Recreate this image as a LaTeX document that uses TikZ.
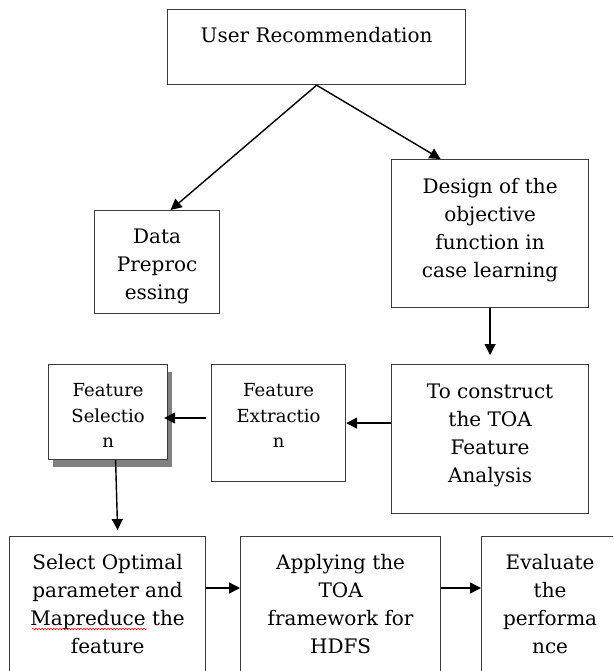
\documentclass[tikz,border=0pt]{standalone}
\usepackage{fontspec}
\setmainfont{DejaVu Serif}
\usetikzlibrary{arrows.meta,decorations.pathmorphing,shadows}
\definecolor{edge}{HTML}{3C3C3C}
\definecolor{shade}{HTML}{808080}
\newcommand\bxt[4]{\parbox[c][#2pt][t]{#1pt}{\centering\rule{0pt}{#3pt}#4}}
\tikzset{
  box/.style={draw=edge, line width=1.2pt, inner sep=0pt, anchor=north west, fill=white,
              font=\fontsize{20}{28}\selectfont},
  smallbox/.style={box, font=\fontsize{18}{25.5}\selectfont},
  arr/.style={line width=1.4pt, -{Triangle[length=11pt,width=11pt]}},
}
\begin{document}
\begin{tikzpicture}[x=1pt, y=-1pt]
\useasboundingbox (0,0) rectangle (613,671);
\clip (0,0) rectangle (613,671);

\node[box] (ur) at (167,9) {\bxt{298}{75}{33}{User Recommendation}};
\node[box] (data) at (94,210) {\bxt{125}{103}{33}{Data\\Preproc\\essing}};
\node[box] (design) at (391,159) {\bxt{197}{148}{34}{Design of the\\objective\\function in\\case learning}};
\node[box] (toa) at (391,364) {\bxt{197}{149}{34}{To construct\\the TOA\\Feature\\Analysis}};
\node[smallbox] (fe) at (211,364) {\bxt{134}{117}{32}{Feature\\Extractio\\n}};
\node[smallbox, drop shadow={shadow xshift=4.5pt, shadow yshift=-7pt, fill=shade, opacity=1}] (fs) at (48,364) {\bxt{119}{95}{32}{Feature\\Selectio\\n}};
\node[box] (sel) at (9,536) {\bxt{196}{150}{33}{Select Optimal\\parameter and\\Mapreduce the\\feature}};
\node[box] (app) at (240,536) {\bxt{200}{150}{33}{Applying the\\TOA\\framework for\\HDFS}};
\node[box] (eva) at (481,536) {\bxt{137}{150}{33}{Evaluate\\the\\performa\\nce}};

\coordinate (y418) at (0,418);
\coordinate (y588) at (0,588);

\draw[arr] (ur.south) -- ([xshift=13.5pt]data.north);
\draw[arr] (ur.south) -- ([xshift=-49.5pt]design.north);
\draw[arr, shorten >=9pt] (design.south) -- (toa.north);
\draw[arr] (toa.west |- fe.east) -- (fe.east);
\draw[arr, shorten <=5pt, shorten >=-4pt] (fe.west |- y418) -- (fs.east |- y418);
\draw[arr] ([xshift=7.5pt]fs.south) -- ([xshift=10pt,yshift=6pt]sel.north);
\draw[arr] (sel.east |- y588) -- (app.west |- y588);
\draw[arr] (app.east |- y588) -- (eva.west |- y588);

\draw[red, line width=0.5pt, decorate, decoration={snake, amplitude=0.8pt, segment length=3pt}] (32,629) -- (147,629);
\end{tikzpicture}
\end{document}
